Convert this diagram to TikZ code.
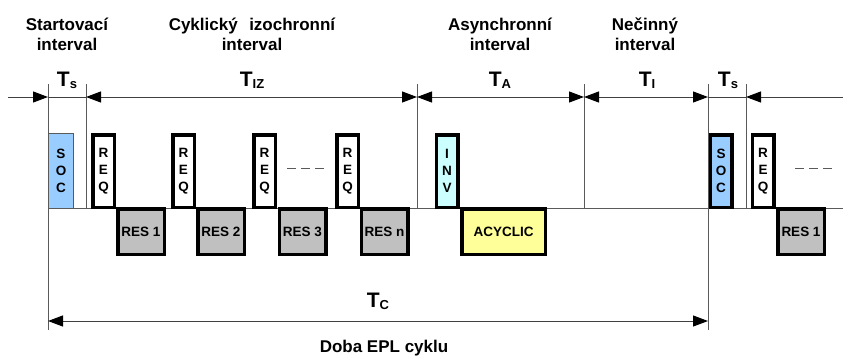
\documentclass[tikz,border=0pt]{standalone}
\usepackage{fontspec}
\setmainfont{Liberation Sans}
\usetikzlibrary{arrows.meta,positioning}
\definecolor{socblue}{HTML}{99CCFF}
\definecolor{invcyan}{HTML}{CCFFFF}
\definecolor{acyellow}{HTML}{FFFF99}
\definecolor{resgray}{HTML}{C0C0C0}
\definecolor{lgray}{HTML}{5A5A5A}
\newcommand{\Tlab}[1]{T\raisebox{-2pt}{\fontsize{13}{13}\selectfont #1}}
\tikzset{
  pkt/.style     = {draw=black, line width=3.5pt, inner sep=0pt, align=center,
                    font=\fontsize{13.5}{17}\selectfont\bfseries},
  reqbox/.style  = {pkt, fill=white, minimum width=21.5pt, minimum height=72.5pt},
  socbox/.style  = {reqbox, fill=socblue},
  invbox/.style  = {reqbox, fill=invcyan},
  resbox/.style  = {pkt, fill=resgray, minimum width=46.5pt, minimum height=45.5pt},
  acbox/.style   = {resbox, fill=acyellow, minimum width=83.5pt},
  tickline/.style= {draw=lgray, line width=1pt},
  dimline/.style = {draw=black!75, line width=1pt},
  toR/.style     = {-{Triangle[length=15pt,width=11pt,color=black]}},
  toL/.style     = {{Triangle[length=15pt,width=11pt,color=black]}-},
  toLR/.style    = {{Triangle[length=15pt,width=11pt,color=black]}-{Triangle[length=15pt,width=11pt,color=black]}},
  ivname/.style  = {font=\fontsize{17}{20}\selectfont\bfseries, align=center},
  ivper/.style   = {font=\fontsize{21}{21}\selectfont\bfseries, anchor=base},
  gapdash/.style = {draw=lgray, line width=1pt, dash pattern=on 9pt off 5pt},
}
\begin{document}
\begin{tikzpicture}[x=1pt,y=-1pt]
\useasboundingbox (0,0) rectangle (843,356);
% interval names
\node[ivname] (nstart) at (67,34)  {Startovací\\interval};
\node[ivname] (ncyc)   at (252,34) {Cyklický\hspace{0.4em} izochronní\\interval};
\node[ivname] (nasyn)  at (500,34) {Asynchronní\\interval};
\node[ivname] (nidle)  at (645,34) {Nečinný\\interval};
% interval lengths
\node[ivper] (ts)  at (67,86)  {\Tlab{s}};
\node[ivper] (tiz) at (252,86) {\Tlab{IZ}};
\node[ivper] (ta)  at (500,86) {\Tlab{A}};
\node[ivper] (ti)  at (647,86) {\Tlab{I}};
\node[ivper] (ts2) at (728,86) {\Tlab{s}};
% ticks
\foreach \x/\n in {48/a,86/b,417/c,584/d,708/e,746/f}{
  \coordinate (up\n) at (\x,84);
  \coordinate (dm\n) at (\x,97);
  \coordinate (bl\n) at (\x,208);
}
\coordinate (cl) at (48,321);
\coordinate (cr) at (708,321);
\coordinate (dmin) at (8,97);
\coordinate (dmout) at (843,97);
\coordinate (blout) at (843,208);
\foreach \n in {b,c,d,f}
  \draw[tickline] (up\n) -- (bl\n);
\draw[tickline] (upa) -- ++(0,246);
\draw[tickline] (upe) -- ++(0,246);
% dimension line
\draw[dimline,toR] (dmin) -- (dma);
\draw[dimline] (dma) -- (dmb);
\draw[dimline,toLR] (dmb) -- (dmc);
\draw[dimline,toLR] (dmc) -- (dmd);
\draw[dimline,toLR] (dmd) -- (dme);
\draw[dimline] (dme) -- (dmf);
\draw[dimline,toL] (dmf) -- (dmout);
% time axis
\draw[tickline] (bla) -- (blout);
% frames
\node[socbox,draw=lgray,line width=1.3pt,minimum width=24.7pt,minimum height=74.7pt]
  (soc1) at (61,171) {S\\O\\C};
\node[reqbox] (req1) at (103.5,171) {R\\E\\Q};
\node[resbox] (res1) at (141,231.5) {RES 1};
\node[reqbox] (req2) at (183.5,171) {R\\E\\Q};
\node[resbox] (res2) at (221,231.5) {RES 2};
\node[reqbox] (req3) at (264.5,171) {R\\E\\Q};
\node[resbox] (res3) at (302.5,231.5) {RES 3};
\draw[gapdash] (287,168) -- (325,168);
\node[reqbox] (req4) at (347.5,171) {R\\E\\Q};
\node[resbox] (resn) at (384.5,231.5) {RES n};
\node[invbox] (inv) at (447,171) {I\\N\\V};
\node[acbox] (acyc) at (503.5,231.5) {ACYCLIC};
\node[socbox] (soc2) at (721,171) {S\\O\\C};
\node[reqbox] (req5) at (763,171) {R\\E\\Q};
\node[resbox] (res1b) at (801,231.5) {RES 1};
\draw[gapdash] (795,168) -- (833,168);
% cycle time
\draw[dimline,toLR] (cl) -- (cr);
\node[ivper] (tc) at (378,307) {\Tlab{C}};
\node[ivname] (doba) at (384,348) {Doba EPL cyklu};
\end{tikzpicture}
\end{document}
